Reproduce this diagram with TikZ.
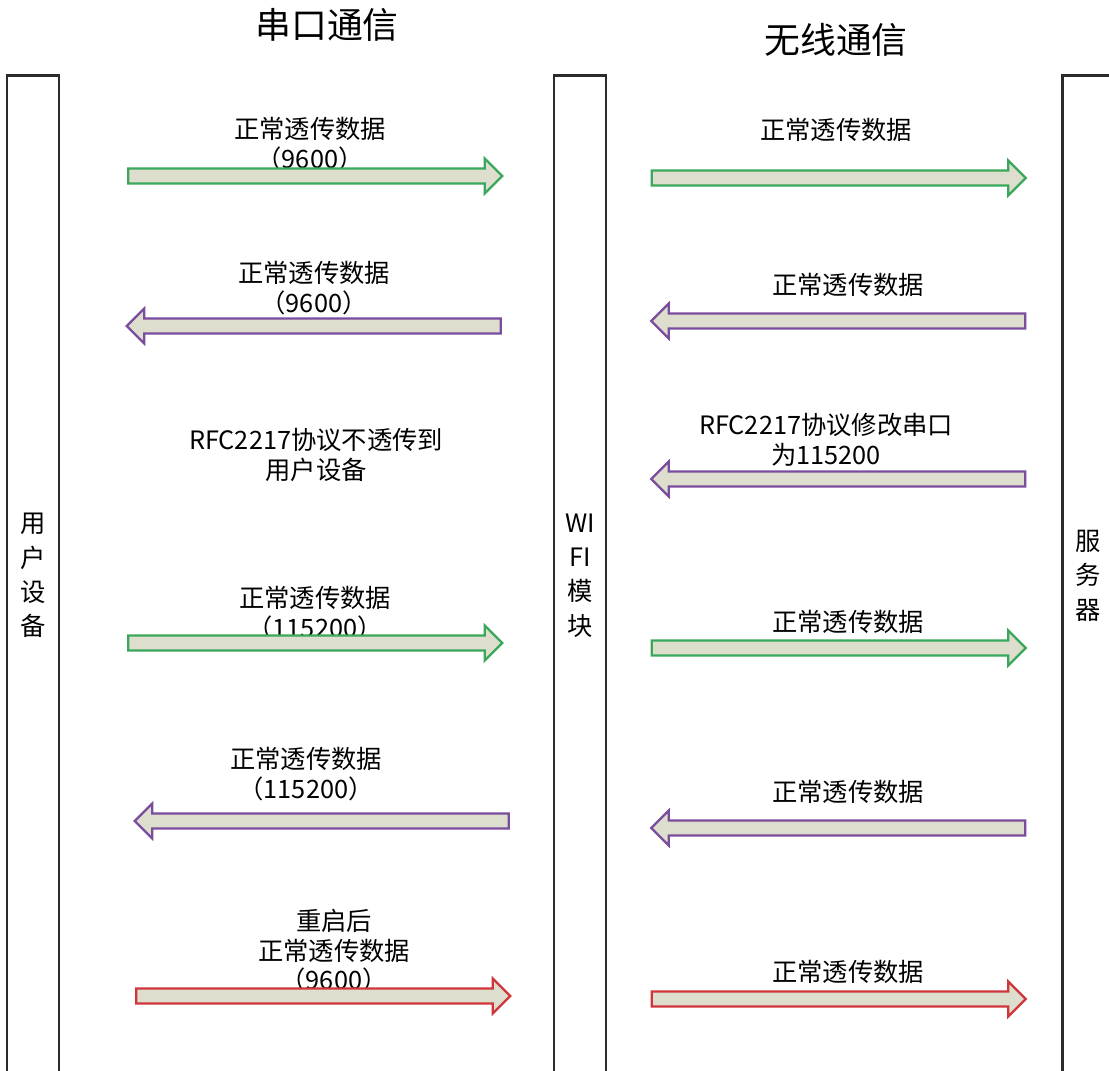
\documentclass[tikz,border=0pt]{standalone}
\usepackage{fontspec}
\setmainfont{Noto Sans CJK SC}
\usetikzlibrary{shapes.arrows}

\definecolor{lanegray}{HTML}{2B2B2B}
\definecolor{flowfill}{HTML}{DDDECD}
\definecolor{okgreen}{HTML}{3AA85A}
\definecolor{backpurple}{HTML}{7A4C9E}
\definecolor{resetred}{HTML}{D0353A}

\tikzset{
  lane/.style={draw=lanegray, line width=0.6mm, fill=white, minimum width=13mm,
    minimum height=250mm, align=center, font=\fontsize{18}{24.5}\selectfont},
  title/.style={font=\fontsize{25.5}{30}\selectfont},
  msg/.style={font=\fontsize{18}{21}\selectfont, align=center},
  flow/.style={single arrow, single arrow head extend=2.5mm, inner sep=1.6mm,
    line width=0.55mm, fill=flowfill, minimum height=93.5mm},
  fwd/.style={flow, draw=okgreen},
  back/.style={flow, draw=backpurple, shape border rotate=180},
  reset/.style={flow, draw=resetred}
}

\begin{document}
\begin{tikzpicture}[x=0.25mm, y=-0.25mm]
    \useasboundingbox (0, 0) rectangle (1109, 1071);

    % the three lanes
    \node[lane] (user) at (33, 575.5) {用\\户\\设\\备};
    \node[lane] (wifi) at (580, 575.5) {WI\\FI\\模\\块};
    \node[lane] (server) at (1088.5, 575.5) {服\\务\\器};

    \node[title] (t0) at (327, 25) {串口通信};
    \node[title] (t1) at (836, 40) {无线通信};

    % serial side
    \node[msg] (m0) at (310, 144) {正常透传数据\\（9600）};
    \node[fwd] (a0) at (311.5, 176) {};
    \node[msg] (m1) at (314, 288) {正常透传数据\\（9600）};
    \node[back] (a1) at (317.5, 326) {};
    \node[msg] (m2) at (316, 455) {RFC2217协议不透传到\\用户设备};
    \node[msg] (m3) at (315, 613) {正常透传数据\\（115200）};
    \node[fwd] (a3) at (311.5, 643) {};
    \node[msg] (m4) at (306, 774) {正常透传数据\\（115200）};
    \node[back] (a4) at (325.5, 821) {};
    \node[msg] (m5) at (334, 951) {重启后\\正常透传数据\\（9600）};
    \node[reset] (a5) at (319.5, 996) {};

    % wireless side
    \node[msg] (n0) at (836, 130) {正常透传数据};
    \node[fwd] (b0) at (835, 178) {};
    \node[msg] (n1) at (848, 285) {正常透传数据};
    \node[back] (b1) at (842, 321) {};
    \node[msg] (n2) at (826, 440) {RFC2217协议修改串口\\为115200};
    \node[back] (b2) at (842, 479) {};
    \node[msg] (n3) at (848, 622) {正常透传数据};
    \node[fwd] (b3) at (835, 648) {};
    \node[msg] (n4) at (848, 792) {正常透传数据};
    \node[back] (b4) at (842, 828) {};
    \node[msg] (n5) at (848, 972) {正常透传数据};
    \node[reset] (b5) at (835, 999) {};
\end{tikzpicture}
\end{document}
